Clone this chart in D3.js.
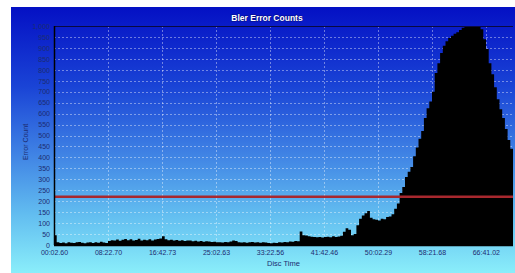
<!DOCTYPE html>
<html><head><meta charset="utf-8">
<script src="https://cdn.jsdelivr.net/npm/d3@7"></script>
<style>html,body{margin:0;padding:0;background:#fff;}svg{display:block;}</style>
</head><body>
<script>
const title = "Bler Error Counts";
const xTitle = "Disc Time";
const yTitle = "Error Count";
const startSec = 2.6;
const stepSec = 25;
const errorCounts = [
 45,12,9,11,8,13,10,9,12,14,10,8,11,13,9,12,10,15,11,9,
 18,22,20,25,19,24,27,22,26,21,23,28,20,24,22,26,21,25,27,30,
 40,26,22,24,20,23,19,22,18,21,20,17,19,16,18,15,17,16,14,15,
 12,13,11,14,12,16,20,18,13,11,12,10,12,14,11,12,10,13,11,9,
 8,10,9,12,11,14,13,16,15,18,17,62,45,43,40,38,36,35,37,34,
 36,38,35,40,37,39,42,60,77,70,45,50,90,120,135,145,155,125,118,115,
 112,120,118,128,130,140,165,190,237,265,310,335,356,405,445,485,520,580,625,655,
 700,785,830,877,910,930,945,955,965,972,982,992,1000,1000,1000,1000,1000,995,985,940,
 895,830,780,720,665,620,580,530,480,440,390
];
const tickSeconds = [2.60, 502.70, 1002.73, 1502.63, 2002.56, 2502.46, 3002.29, 3501.68, 4001.02];
const tickLabels = ["00:02.60","08:22.70","16:42.73","25:02.63","33:22.56","41:42.46","50:02.29","58:21.68","66:41.02"];
const yTicks = d3.range(0, 1001, 50);
const threshold = 220;

const W = 515, H = 273;
const m = {left:54, top:26, right:513, bottom:245};
const svg = d3.select("body").append("svg").attr("width", W).attr("height", H);

const defs = svg.append("defs");
const g = defs.append("linearGradient").attr("id","bg").attr("x1",0).attr("y1",0).attr("x2",0).attr("y2",1);
[[0,"#0410c4"],[0.3,"#1a44d6"],[0.55,"#3f82e4"],[0.78,"#62bdf0"],[1,"#8aeefa"]].forEach(s=>
  g.append("stop").attr("offset",s[0]).attr("stop-color",s[1]));
defs.append("clipPath").attr("id","clip").append("rect")
  .attr("x",m.left).attr("y",m.top).attr("width",m.right-m.left).attr("height",m.bottom-m.top);

svg.append("rect").attr("x",11).attr("y",7).attr("width",W-11).attr("height",H-7).attr("fill","url(#bg)");

const x = d3.scaleLinear().domain([startSec, startSec + stepSec*(errorCounts.length-1)])
  .range([m.left, m.left + (stepSec*(errorCounts.length-1))*54/500]);
const y = d3.scaleLinear().domain([0,1000]).range([m.bottom, m.top]);

// grid
const grid = svg.append("g");
grid.selectAll(".hg").data(yTicks.slice(1)).join("line")
  .attr("x1",m.left).attr("x2",m.right).attr("y1",d=>Math.round(y(d))+0.5).attr("y2",d=>Math.round(y(d))+0.5)
  .attr("stroke","rgba(255,255,255,0.4)").attr("stroke-dasharray","2,2");
grid.selectAll(".vg").data(tickSeconds.slice(1)).join("line")
  .attr("y1",m.top).attr("y2",m.bottom).attr("x1",d=>Math.round(x(d))+0.5).attr("x2",d=>Math.round(x(d))+0.5)
  .attr("stroke","rgba(255,255,255,0.4)").attr("stroke-dasharray","2,2");

// area
const data = errorCounts.map((v,i)=>({t:startSec+i*stepSec, v}));
const area = d3.area().x(d=>x(d.t)).y0(y(0)).y1(d=>y(d.v)).curve(d3.curveStepAfter);
svg.append("path").datum(data).attr("d",area).attr("fill","#000").attr("clip-path","url(#clip)");

// threshold
svg.append("line").attr("x1",m.left).attr("x2",m.right).attr("y1",y(threshold)).attr("y2",y(threshold))
  .attr("stroke","#a8282e").attr("stroke-width",2.5);

// axes lines
svg.append("line").attr("x1",m.left).attr("x2",m.right).attr("y1",m.top+0.5).attr("y2",m.top+0.5).attr("stroke","#0a0a40").attr("stroke-width",1);
svg.append("line").attr("x1",m.left+0.5).attr("x2",m.left+0.5).attr("y1",m.top).attr("y2",m.bottom).attr("stroke","#000").attr("stroke-width",1.5);
svg.append("line").attr("x1",m.left).attr("x2",m.right).attr("y1",m.bottom+0.5).attr("y2",m.bottom+0.5).attr("stroke","#000").attr("stroke-width",1.5);

const txtColor = "#1c2c70";
const yAxis = d3.axisLeft(y).tickValues(yTicks).tickSize(0).tickPadding(4)
  .tickFormat(d=>d3.format(",")(d));
const ya = svg.append("g").attr("transform",`translate(${m.left},0)`).call(yAxis);
ya.select(".domain").remove();
ya.selectAll("text").attr("fill",txtColor).style("font-family","Arial, 'Liberation Sans', sans-serif").style("font-size","7px");

const xAxis = d3.axisBottom(x).tickValues(tickSeconds).tickSize(0).tickPadding(5)
  .tickFormat((d,i)=>tickLabels[i]);
const xa = svg.append("g").attr("transform",`translate(0,${m.bottom})`).call(xAxis);
xa.select(".domain").remove();
xa.selectAll("text").attr("fill",txtColor).style("font-family","Arial, 'Liberation Sans', sans-serif").style("font-size","7px");

svg.append("text").attr("x",(m.left+m.right)/2).attr("y",266).attr("text-anchor","middle")
  .attr("fill",txtColor).style("font-family","Arial, 'Liberation Sans', sans-serif").style("font-size","7.5px").text(xTitle);
svg.append("text").attr("transform","translate(28,142) rotate(-90)").attr("text-anchor","middle")
  .attr("fill",txtColor).style("font-family","Arial, 'Liberation Sans', sans-serif").style("font-size","7px").text(yTitle);

svg.append("text").attr("x",267).attr("y",21).attr("text-anchor","middle")
  .attr("fill","#fff").style("font-family","Arial, 'Liberation Sans', sans-serif").style("font-weight","bold").style("font-size","8.5px")
  .style("paint-order","stroke").attr("stroke","rgba(0,0,60,0.5)").attr("stroke-width",1).text(title);
</script>
</body></html>
